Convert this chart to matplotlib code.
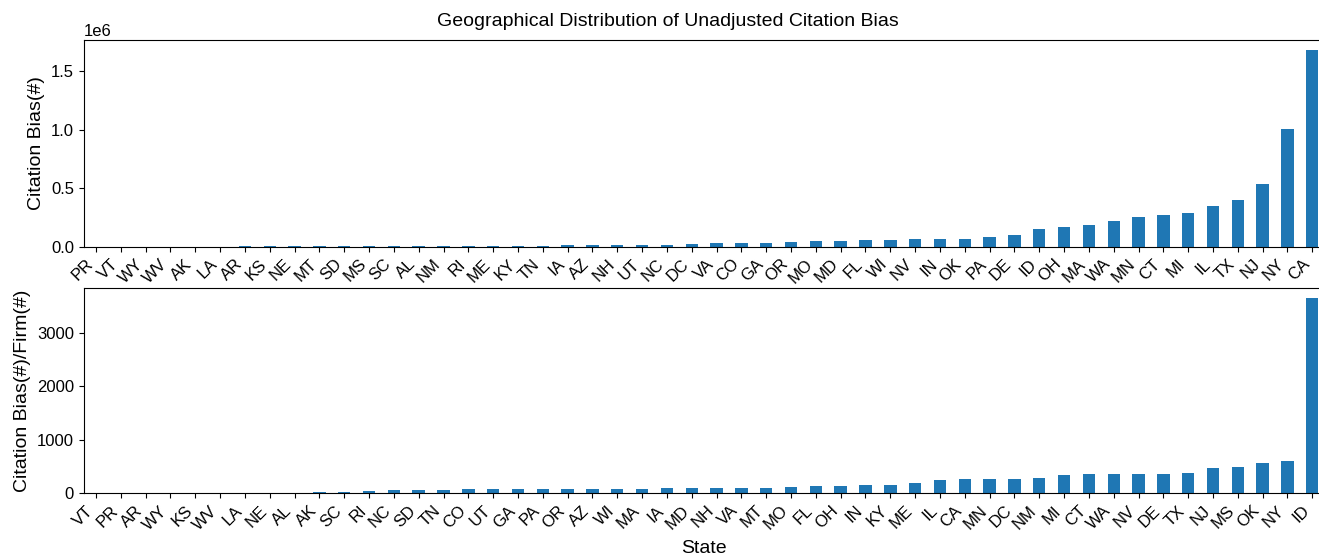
import matplotlib
matplotlib.use("Agg")
import matplotlib.pyplot as plt
import numpy as np

plt.rcParams['font.family'] = ['Liberation Sans', 'DejaVu Sans']

# Total citation bias per state (count), sorted ascending
states_total = ["PR", "VT", "WY", "WV", "AK", "LA", "AR", "KS", "NE", "MT",
                "SD", "MS", "SC", "AL", "NM", "RI", "ME", "KY", "TN", "IA",
                "AZ", "NH", "UT", "NC", "DC", "VA", "CO", "GA", "OR", "MO",
                "MD", "FL", "WI", "NV", "IN", "OK", "PA", "DE", "ID", "OH",
                "MA", "WA", "MN", "CT", "MI", "IL", "TX", "NJ", "NY", "CA"]
bias_total = [300, 500, 800, 1000, 1200, 1500, 1800, 2000, 2200, 2500,
              3000, 3300, 3600, 4000, 4500, 5000, 5500, 6000, 9000, 11000,
              13000, 14000, 15000, 17000, 19000, 28000, 33000, 35000, 42000, 45000,
              47000, 55000, 56000, 63000, 64000, 69000, 86000, 103000, 149000, 169000,
              189000, 223000, 257000, 274000, 291000, 351000, 400000, 537000, 1009000, 1685000]

# Citation bias per firm, sorted ascending
states_per_firm = ["VT", "PR", "AR", "WY", "KS", "WV", "LA", "NE", "AL", "AK",
                   "SC", "RI", "NC", "SD", "TN", "CO", "UT", "GA", "PA", "OR",
                   "AZ", "WI", "MA", "IA", "MD", "NH", "VA", "MT", "MO", "FL",
                   "OH", "IN", "KY", "ME", "IL", "CA", "MN", "DC", "NM", "MI",
                   "CT", "WA", "NV", "DE", "TX", "NJ", "MS", "OK", "NY", "ID"]
bias_per_firm = [0, 0.5, 1, 1.5, 2, 2.5, 3, 4, 12, 25,
                 31, 50, 56, 57, 58, 72, 73, 74, 75, 76,
                 77, 80, 81, 93, 105, 106, 107, 108, 109, 131,
                 133, 155, 156, 193, 243, 258, 260, 263, 286, 336,
                 355, 357, 367, 368, 385, 467, 492, 566, 604, 3645]

W, H = 1319, 558
fig = plt.figure(figsize=(W / 100, H / 100), dpi=100)

left = 83.6 / W
width = (1324.7 - 83.6) / W
ax1 = fig.add_axes([left, 1 - 246.7 / H, width, (246.7 - 40) / H])
ax2 = fig.add_axes([left, 1 - 493.3 / H, width, (493.3 - 288.3) / H])

color = "#1f77b4"
for ax, labels, vals, ylabel in [
    (ax1, states_total, bias_total, "Citation Bias(#)"),
    (ax2, states_per_firm, bias_per_firm, "Citation Bias(#)/Firm(#)"),
]:
    x = np.arange(len(labels))
    ax.bar(x, vals, width=0.5, color=color)
    ax.set_xlim(-0.5, len(labels) - 0.5)
    ax.set_xticks(x)
    ax.set_xticklabels(labels, rotation=45, ha="right", fontsize=12)
    ax.tick_params(axis="y", labelsize=12)
    ax.set_ylabel(ylabel, fontsize=14)

fig.suptitle("Geographical Distribution of Unadjusted Citation Bias",
             fontsize=14, x=668 / W, y=1 - 21.5 / H, va="center")
ax1.yaxis.get_offset_text().set_fontsize(12)
ax2.set_xlabel("State", fontsize=14, labelpad=5)

fig.savefig("out.png", dpi=100)
